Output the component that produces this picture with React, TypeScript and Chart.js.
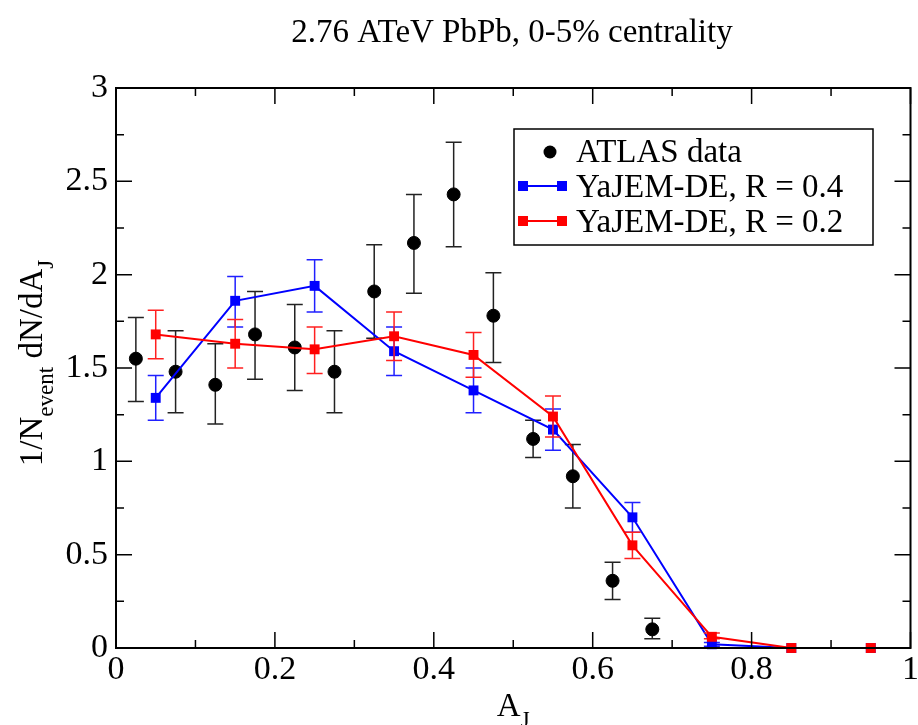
import React, { useEffect, useRef } from 'react';
import { Chart, registerables } from 'chart.js';

Chart.register(...registerables);

// ATLAS data
const atlasX = [0.025, 0.075, 0.125, 0.175, 0.225, 0.275, 0.325, 0.375, 0.425, 0.475, 0.525, 0.575, 0.625, 0.675];
const atlasY = [1.55, 1.48, 1.41, 1.68, 1.61, 1.48, 1.91, 2.17, 2.43, 1.78, 1.12, 0.92, 0.36, 0.10];
const atlasHi = [1.77, 1.70, 1.63, 1.91, 1.84, 1.70, 2.16, 2.43, 2.71, 2.01, 1.22, 1.09, 0.46, 0.16];
const atlasLo = [1.32, 1.26, 1.20, 1.44, 1.38, 1.26, 1.66, 1.90, 2.15, 1.53, 1.02, 0.75, 0.26, 0.05];

// YaJEM-DE
const modelX = [0.05, 0.15, 0.25, 0.35, 0.45, 0.55, 0.65, 0.75, 0.85, 0.95];
const r04Y = [1.34, 1.86, 1.94, 1.59, 1.38, 1.17, 0.70, 0.02, 0, 0];
const r04Hi = [1.46, 1.99, 2.08, 1.72, 1.50, 1.28, 0.78, 0.03, 0, 0];
const r04Lo = [1.22, 1.72, 1.80, 1.46, 1.26, 1.06, 0.62, 0.01, 0, 0];
const r02Y = [1.68, 1.63, 1.60, 1.67, 1.57, 1.24, 0.55, 0.06, 0, 0];
const r02Hi = [1.81, 1.76, 1.72, 1.80, 1.69, 1.35, 0.62, 0.08, 0, 0];
const r02Lo = [1.55, 1.50, 1.47, 1.54, 1.45, 1.13, 0.48, 0.05, 0, 0];

const xTicks = [0, 0.2, 0.4, 0.6, 0.8, 1];
const yTicks = [0, 0.5, 1, 1.5, 2, 2.5, 3];

const titleText = '2.76 ATeV PbPb, 0-5% centrality';
const legendLabels = ['ATLAS data', 'YaJEM-DE, R = 0.4', 'YaJEM-DE, R = 0.2'];

const FONT = '"Liberation Serif", "Times New Roman", serif';

const errorBarPlugin = {
  id: 'errorBars',
  beforeDatasetDraw(chart: any, args: any) {
    const ds: any = chart.data.datasets[args.index];
    if (!ds.errHi) return;
    const xs = chart.scales.x;
    const ys = chart.scales.y;
    const ctx = chart.ctx;
    ctx.save();
    ctx.strokeStyle = ds.errColor;
    ctx.lineWidth = 1.5;
    ds.data.forEach((p: any, i: number) => {
      const hi = ds.errHi[i];
      const lo = ds.errLo[i];
      if (hi === lo) return;
      const px = xs.getPixelForValue(p.x);
      const ph = ys.getPixelForValue(hi);
      const pl = ys.getPixelForValue(lo);
      ctx.beginPath();
      ctx.moveTo(px, ph);
      ctx.lineTo(px, pl);
      ctx.moveTo(px - 8, ph);
      ctx.lineTo(px + 8, ph);
      ctx.moveTo(px - 8, pl);
      ctx.lineTo(px + 8, pl);
      ctx.stroke();
    });
    ctx.restore();
  },
};

const decorPlugin = {
  id: 'decor',
  afterDraw(chart: any) {
    const ctx = chart.ctx;
    const a = chart.chartArea;
    const xs = chart.scales.x;
    const ys = chart.scales.y;
    ctx.save();
    // frame
    ctx.strokeStyle = '#000';
    ctx.lineWidth = 2;
    ctx.strokeRect(a.left, a.top, a.right - a.left, a.bottom - a.top);
    // ticks
    ctx.lineWidth = 1.5;
    ctx.beginPath();
    for (let i = 0; i <= 10; i++) {
      const v = i / 10;
      const len = i % 2 === 0 ? 16 : 8;
      const px = xs.getPixelForValue(v);
      ctx.moveTo(px, a.bottom);
      ctx.lineTo(px, a.bottom - len);
      ctx.moveTo(px, a.top);
      ctx.lineTo(px, a.top + len);
    }
    for (let i = 0; i <= 12; i++) {
      const v = i * 0.25;
      const len = i % 2 === 0 ? 16 : 8;
      const py = ys.getPixelForValue(v);
      ctx.moveTo(a.left, py);
      ctx.lineTo(a.left + len, py);
      ctx.moveTo(a.right, py);
      ctx.lineTo(a.right - len, py);
    }
    ctx.stroke();

    ctx.fillStyle = '#000';
    // title
    ctx.font = `33px ${FONT}`;
    ctx.textAlign = 'center';
    ctx.textBaseline = 'alphabetic';
    ctx.fillText(titleText, 512, 42);

    // x label
    ctx.textAlign = 'left';
    ctx.font = `33px ${FONT}`;
    const wA = ctx.measureText('A').width;
    ctx.font = `23px ${FONT}`;
    const wJ = ctx.measureText('J').width;
    const sx = (a.left + a.right) / 2 - (wA + wJ) / 2;
    ctx.font = `33px ${FONT}`;
    ctx.fillText('A', sx, 716);
    ctx.font = `23px ${FONT}`;
    ctx.fillText('J', sx + wA, 727);

    // y label
    ctx.save();
    ctx.translate(42, 363);
    ctx.rotate(-Math.PI / 2);
    const parts: [string, boolean][] = [['1/N', false], ['event', true], [' dN/dA', false], ['J', true]];
    let total = 0;
    const widths: number[] = [];
    parts.forEach(([t, sub]) => {
      ctx.font = sub ? `23px ${FONT}` : `33px ${FONT}`;
      const w = ctx.measureText(t).width;
      widths.push(w);
      total += w;
    });
    let cx = -total / 2;
    parts.forEach(([t, sub], i) => {
      ctx.font = sub ? `23px ${FONT}` : `33px ${FONT}`;
      ctx.fillText(t, cx, sub ? 11 : 0);
      cx += widths[i];
    });
    ctx.restore();

    // legend
    ctx.lineWidth = 1.5;
    ctx.strokeStyle = '#000';
    ctx.strokeRect(514, 129, 359, 116);
    ctx.font = `33px ${FONT}`;
    ctx.textAlign = 'left';
    ctx.textBaseline = 'alphabetic';
    const rows = [152, 186, 221];
    // ATLAS
    ctx.fillStyle = '#000';
    ctx.beginPath();
    ctx.arc(550, rows[0], 6.5, 0, Math.PI * 2);
    ctx.fill();
    ctx.fillText(legendLabels[0], 576, 162);
    const cols = ['#0000ff', '#ff0000'];
    [1, 2].forEach((k) => {
      const y = rows[k];
      ctx.strokeStyle = cols[k - 1];
      ctx.fillStyle = cols[k - 1];
      ctx.lineWidth = 2;
      ctx.beginPath();
      ctx.moveTo(523, y);
      ctx.lineTo(562, y);
      ctx.stroke();
      ctx.fillRect(523 - 5, y - 5, 10, 10);
      ctx.fillRect(562 - 5, y - 5, 10, 10);
      ctx.fillStyle = '#000';
      ctx.fillText(legendLabels[k], 576, y + 11);
    });
    ctx.restore();
  },
};

export default function App() {
  const ref = useRef<HTMLCanvasElement>(null);
  useEffect(() => {
    if (!ref.current) return;
    const chart = new Chart(ref.current, {
      type: 'line',
      data: {
        datasets: [
          {
            label: legendLabels[0],
            data: atlasX.map((x, i) => ({ x, y: atlasY[i] })),
            showLine: false,
            pointStyle: 'circle',
            pointRadius: 6.5,
            pointBackgroundColor: '#000',
            pointBorderColor: '#000',
            pointBorderWidth: 1,
            borderColor: '#000',
            backgroundColor: '#000',
            clip: false,
            order: 2,
            errHi: atlasHi,
            errLo: atlasLo,
            errColor: '#222',
          } as any,
          {
            label: legendLabels[1],
            data: modelX.map((x, i) => ({ x, y: r04Y[i] })),
            borderColor: '#0000ff',
            backgroundColor: '#0000ff',
            borderWidth: 2,
            pointStyle: 'rect',
            pointRadius: 7,
            pointBackgroundColor: '#0000ff',
            pointBorderColor: '#0000ff',
            pointBorderWidth: 0,
            tension: 0,
            clip: false,
            order: 1,
            errHi: r04Hi,
            errLo: r04Lo,
            errColor: '#2020ff',
          } as any,
          {
            label: legendLabels[2],
            data: modelX.map((x, i) => ({ x, y: r02Y[i] })),
            borderColor: '#ff0000',
            backgroundColor: '#ff0000',
            borderWidth: 2,
            pointStyle: 'rect',
            pointRadius: 7,
            pointBackgroundColor: '#ff0000',
            pointBorderColor: '#ff0000',
            pointBorderWidth: 0,
            tension: 0,
            clip: false,
            order: 0,
            errHi: r02Hi,
            errLo: r02Lo,
            errColor: '#ff2020',
          } as any,
        ],
      },
      options: {
        animation: false,
        responsive: false,
        devicePixelRatio: 1,
        layout: { padding: { left: 0, top: 88, right: 7, bottom: 0 } },
        plugins: {
          legend: { display: false },
          title: { display: false },
          tooltip: { enabled: false },
        },
        scales: {
          x: {
            type: 'linear',
            min: 0,
            max: 1,
            afterBuildTicks: (s: any) => {
              s.ticks = xTicks.map((v) => ({ value: v }));
            },
            afterFit: (s: any) => {
              s.height = 77;
              s.paddingLeft = 0;
              s.paddingRight = 0;
            },
            grid: { display: false, drawTicks: false },
            border: { display: false },
            ticks: {
              color: '#000',
              padding: 2,
              maxRotation: 0,
              autoSkip: false,
              font: { family: FONT, size: 34 },
              callback: (v: any) => String(Math.round(Number(v) * 10) / 10),
            },
          },
          y: {
            type: 'linear',
            min: 0,
            max: 3,
            afterBuildTicks: (s: any) => {
              s.ticks = yTicks.map((v) => ({ value: v }));
            },
            afterFit: (s: any) => {
              s.width = 116;
              s.paddingTop = 0;
              s.paddingBottom = 0;
            },
            grid: { display: false, drawTicks: false },
            border: { display: false },
            ticks: {
              color: '#000',
              padding: 8,
              autoSkip: false,
              font: { family: FONT, size: 34 },
              callback: (v: any) => String(Math.round(Number(v) * 10) / 10),
            },
          },
        },
      },
      plugins: [errorBarPlugin, decorPlugin],
    });
    return () => chart.destroy();
  }, []);
  return (
    <div style={{ position: 'fixed', left: 0, top: 0, width: 918, height: 725, background: '#fff' }}>
      <canvas ref={ref} width={918} height={725} style={{ width: 918, height: 725, display: 'block' }} />
    </div>
  );
}
